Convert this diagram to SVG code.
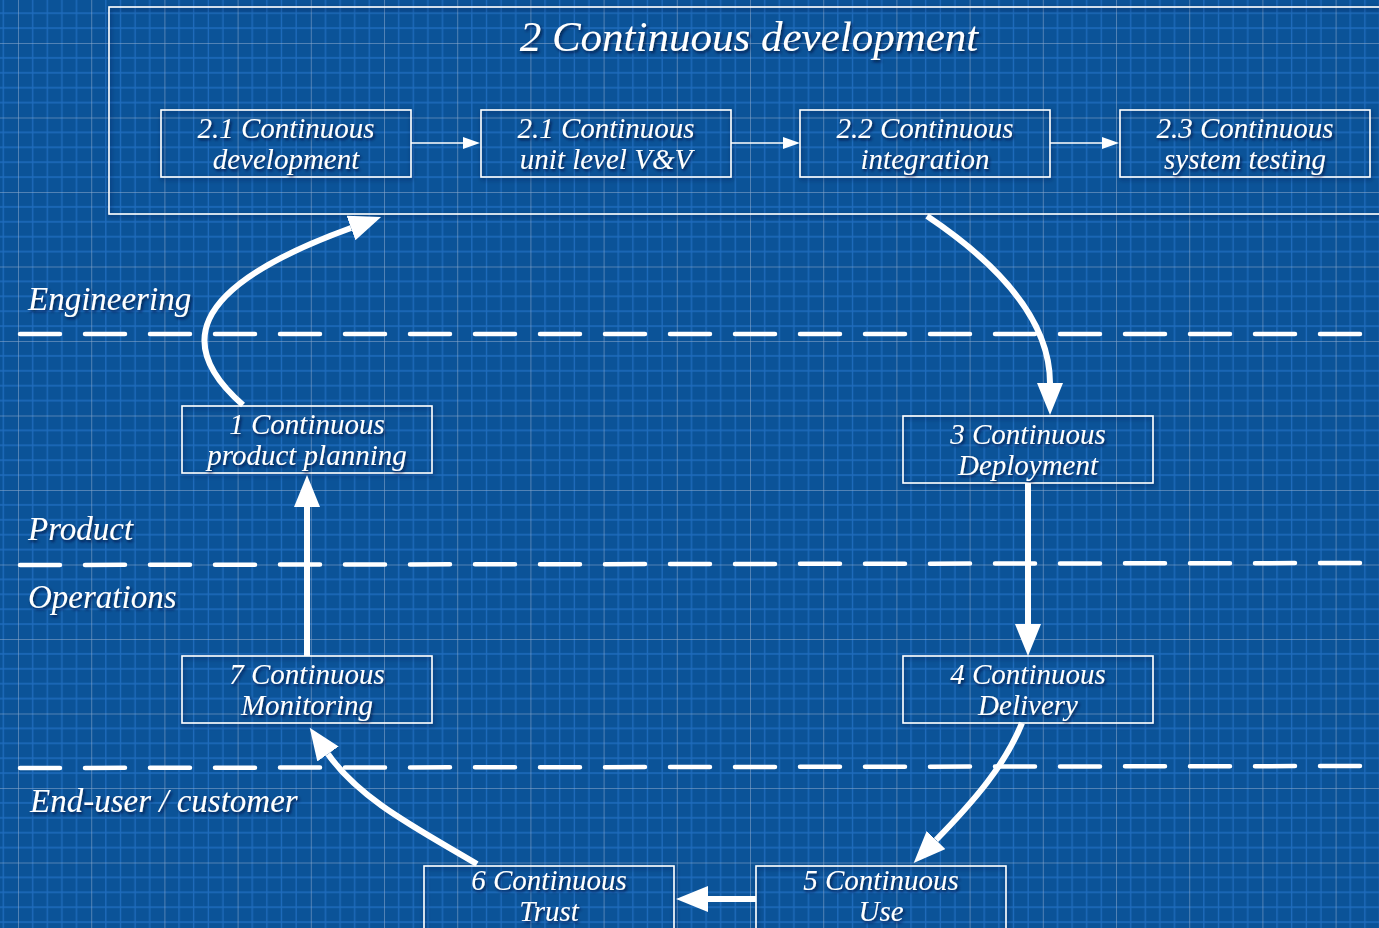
<svg xmlns="http://www.w3.org/2000/svg" width="1379" height="928" viewBox="0 0 1379 928">
<defs>
<pattern id="grid" patternUnits="userSpaceOnUse" x="18" y="43" width="73.2" height="74.5">
<rect width="73.2" height="74.5" fill="#0b5398"/>
<g stroke="#1f6cbd" stroke-width="1.3">
<line x1="14.64" y1="0" x2="14.64" y2="74.5"/>
<line x1="29.28" y1="0" x2="29.28" y2="74.5"/>
<line x1="43.92" y1="0" x2="43.92" y2="74.5"/>
<line x1="58.56" y1="0" x2="58.56" y2="74.5"/>
<line x1="0" y1="14.9" x2="73.2" y2="14.9"/>
<line x1="0" y1="29.8" x2="73.2" y2="29.8"/>
<line x1="0" y1="44.7" x2="73.2" y2="44.7"/>
<line x1="0" y1="59.6" x2="73.2" y2="59.6"/>
</g>
<g stroke="#8aa9cc" stroke-opacity="0.55" stroke-width="2">
<line x1="0" y1="0" x2="0" y2="74.5"/>
<line x1="0" y1="0" x2="73.2" y2="0"/>
</g>
</pattern>
<filter id="ts" x="-10%" y="-30%" width="120%" height="160%">
<feDropShadow dx="1.5" dy="2" stdDeviation="1.6" flood-color="#001530" flood-opacity="0.75"/>
</filter>
<filter id="bs" x="-5%" y="-20%" width="110%" height="140%">
<feDropShadow dx="1" dy="2" stdDeviation="2" flood-color="#001530" flood-opacity="0.5"/>
</filter>
<marker id="big" markerUnits="userSpaceOnUse" markerWidth="34" markerHeight="26" refX="0" refY="13" orient="auto">
<path d="M0,0 L32,13 L0,26 z" fill="#fff"/>
</marker>
<marker id="small" markerUnits="userSpaceOnUse" markerWidth="18" markerHeight="12" refX="0" refY="6" orient="auto">
<path d="M0,0 L17,6 L0,12 z" fill="#fff"/>
</marker>
<style>
.box{fill:none;stroke:#fff;stroke-width:1.6;filter:url(#bs)}
.t{font-family:"Liberation Serif","Times New Roman",serif;font-style:italic;fill:#fff;filter:url(#ts)}
.n{font-size:29px;text-anchor:middle}
.lab{font-size:33px}
.dash{stroke:#fff;stroke-width:4.5;stroke-linecap:round;stroke-dasharray:40 25;fill:none}
.thick{stroke:#fff;stroke-width:6;fill:none;marker-end:url(#big)}
.thin{stroke:#fff;stroke-width:1.6;fill:none;marker-end:url(#small)}
</style>
</defs>
<rect width="1379" height="928" fill="url(#grid)"/>

<g id="lanes">
<path class="dash" d="M20,334 L1365,334"/>
<path class="dash" d="M20,565 L1365,563"/>
<path class="dash" d="M20,768 L1365,766"/>
<text class="t lab" x="28" y="310">Engineering</text>
<text class="t lab" x="28" y="540">Product</text>
<text class="t lab" x="28" y="608">Operations</text>
<text class="t lab" x="30" y="812">End-user / customer</text>
</g>

<g id="n2">
<rect class="box" x="109" y="7" width="1300" height="207"/>
<text class="t" x="749" y="51" font-size="43" text-anchor="middle">2 Continuous development</text>
</g>
<g id="n21">
<rect class="box" x="161" y="110" width="250" height="67"/>
<text class="t n" x="286" y="138">2.1 Continuous</text>
<text class="t n" x="286" y="169">development</text>
</g>
<g id="n21b">
<rect class="box" x="481" y="110" width="250" height="67"/>
<text class="t n" x="606" y="138">2.1 Continuous</text>
<text class="t n" x="606" y="169">unit level V&amp;V</text>
</g>
<g id="n22">
<rect class="box" x="800" y="110" width="250" height="67"/>
<text class="t n" x="925" y="138">2.2 Continuous</text>
<text class="t n" x="925" y="169">integration</text>
</g>
<g id="n23">
<rect class="box" x="1120" y="110" width="250" height="67"/>
<text class="t n" x="1245" y="138">2.3 Continuous</text>
<text class="t n" x="1245" y="169">system testing</text>
</g>
<g id="n1">
<rect class="box" x="182" y="406" width="250" height="67"/>
<text class="t n" x="307" y="434">1 Continuous</text>
<text class="t n" x="307" y="465">product planning</text>
</g>
<g id="n3">
<rect class="box" x="903" y="416" width="250" height="67"/>
<text class="t n" x="1028" y="444">3 Continuous</text>
<text class="t n" x="1028" y="475">Deployment</text>
</g>
<g id="n7">
<rect class="box" x="182" y="656" width="250" height="67"/>
<text class="t n" x="307" y="684">7 Continuous</text>
<text class="t n" x="307" y="715">Monitoring</text>
</g>
<g id="n4">
<rect class="box" x="903" y="656" width="250" height="67"/>
<text class="t n" x="1028" y="684">4 Continuous</text>
<text class="t n" x="1028" y="715">Delivery</text>
</g>
<g id="n6">
<rect class="box" x="424" y="866" width="250" height="80"/>
<text class="t n" x="549" y="890">6 Continuous</text>
<text class="t n" x="549" y="921">Trust</text>
</g>
<g id="n5">
<rect class="box" x="756" y="866" width="250" height="80"/>
<text class="t n" x="881" y="890">5 Continuous</text>
<text class="t n" x="881" y="921">Use</text>
</g>

<g id="connectors">
<path class="thin" d="M411,143 L463,143"/>
<path class="thin" d="M731,143 L783,143"/>
<path class="thin" d="M1050,143 L1102,143"/>
<path class="thick" d="M243,405 C180,350 180,290 351,228"/>
<path class="thick" d="M927,216 C1000,265 1050,320 1050,383"/>
<path class="thick" d="M1028,483 L1028,624"/>
<path class="thick" d="M1022,723 C1005,765 975,800 936,840"/>
<path class="thick" d="M756,899 L708,899"/>
<path class="thick" d="M477,864 C420,830 360,800 328,754"/>
<path class="thick" d="M307,656 L307,507"/>
</g>
</svg>
